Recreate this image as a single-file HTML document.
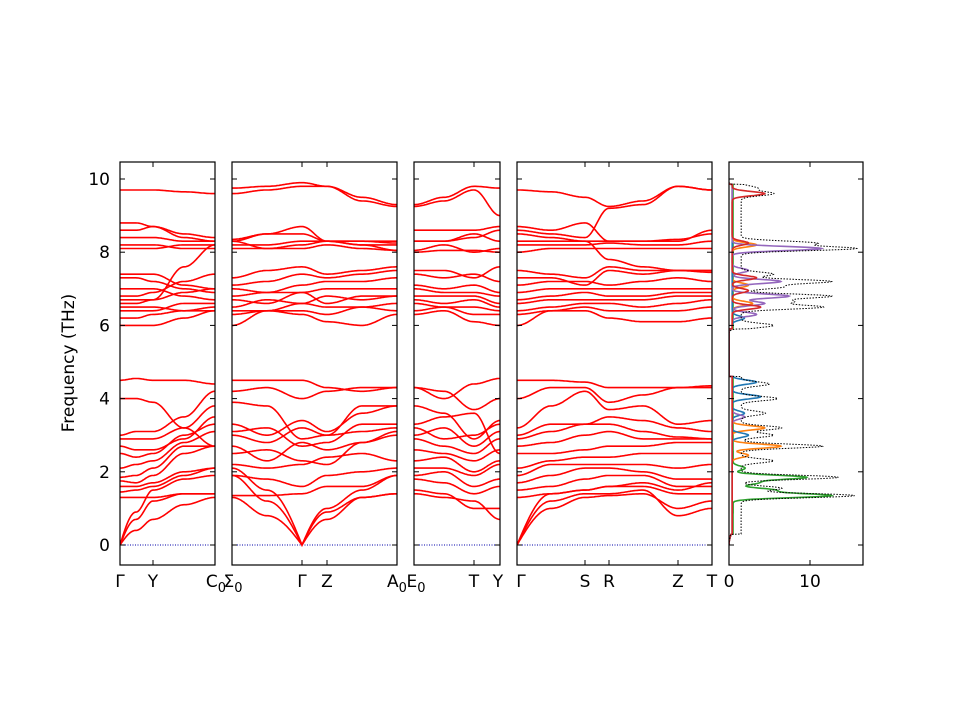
<!DOCTYPE html>
<html><head><meta charset="utf-8"><style>
body{margin:0;background:#fff}
svg{display:block;font-family:"DejaVu Sans","Liberation Sans",sans-serif}
</style></head><body>
<svg id="s" width="960" height="720" xmlns="http://www.w3.org/2000/svg"></svg>
<script>
const S=document.getElementById('s');
const NS='http://www.w3.org/2000/svg';
function el(t,a,txt){const e=document.createElementNS(NS,t);for(const k in a)e.setAttribute(k,a[k]);if(txt!==undefined)e.textContent=txt;S.appendChild(e);return e;}
const Y0=545,K=36.6,TOP=162,BOT=565;
const fy=v=>Y0-v*K;
function clip(id,x,w){const c=el('clipPath',{id:id});const r=document.createElementNS(NS,'rect');r.setAttribute('x',x);r.setAttribute('y',TOP);r.setAttribute('width',w);r.setAttribute('height',BOT-TOP);c.appendChild(r);}
function panel(x0,x1,ticks,bands){
  clip('c'+x0,x0,x1-x0);
  el('line',{x1:x0,x2:x1,y1:Y0,y2:Y0,stroke:'#0000aa','stroke-width':1,'stroke-dasharray':'1,1.5'});
  for(const b of bands){
    let d='';
    for(let i=0;i<ticks.length-1;i++){
      const a=ticks[i],c=ticks[i+1];
      for(let x=a;x<=c;x+=1){
        const t=(x-a)/(c-a);
        let s=(1-Math.cos(Math.PI*t))/2;
        if(b[i]===0) s=Math.sin(Math.PI*t/2);
        else if(b[i+1]===0) s=1-Math.cos(Math.PI*t/2);
        const v=b[i]+(b[i+1]-b[i])*s;
        d+=(d?'L':'M')+x.toFixed(1)+','+fy(v).toFixed(1);
      }
    }
    el('path',{d:d,fill:'none',stroke:'#ff0000','stroke-width':1.6,'clip-path':'url(#c'+x0+')'});
  }
}
function frame(x0,x1,xt){
  el('rect',{x:x0,y:TOP,width:x1-x0,height:BOT-TOP,fill:'none',stroke:'#000','stroke-width':1.2});
  for(let v=0;v<=10;v+=2){el('line',{x1:x0,x2:x0+5,y1:fy(v),y2:fy(v),stroke:'#000'});el('line',{x1:x1-5,x2:x1,y1:fy(v),y2:fy(v),stroke:'#000'});}
  for(const x of xt){el('line',{x1:x,x2:x,y1:BOT,y2:BOT-5,stroke:'#000'});el('line',{x1:x,x2:x,y1:TOP,y2:TOP+5,stroke:'#000'});}
}
panel(120,215,[120,136,153,184,215],[
[0,0.4,0.7,1.1,1.3],[0,0.7,1.2,1.4,1.4],[0,0.9,1.5,1.8,1.9],
[1.3,1.3,1.3,1.4,1.4],[1.45,1.5,1.6,1.9,2.1],[1.6,1.6,1.7,2.0,2.1],[1.75,1.7,1.9,2.5,2.7],[1.85,1.9,2.1,2.7,2.7],[2.1,2.2,2.3,2.8,3.1],[2.5,2.4,2.5,3.0,3.3],[2.7,2.6,2.6,2.9,3.5],[2.9,2.9,2.9,3.2,3.8],[3.0,3.1,3.1,3.5,4.2],[4.0,4.0,3.9,3.2,2.7],[4.5,4.55,4.5,4.5,4.4],
[6.0,6.0,6.0,6.2,6.4],[6.2,6.2,6.3,6.4,6.5],[6.4,6.4,6.4,6.6,6.6],[6.5,6.5,6.5,6.4,6.4],[6.6,6.6,6.7,7.6,8.2],[6.7,6.7,6.7,6.9,7.0],[6.8,6.8,6.9,7.2,7.4],[7.0,7.0,7.0,6.8,6.7],[7.3,7.3,7.2,7.0,6.9],[7.4,7.4,7.4,7.1,7.0],[8.1,8.1,8.1,8.2,8.2],[8.2,8.2,8.2,8.1,8.1],[8.4,8.4,8.4,8.3,8.3],[8.6,8.6,8.7,8.4,8.3],[8.8,8.8,8.7,8.5,8.4],[9.7,9.7,9.7,9.65,9.6]]);
frame(120,215,[153]);
panel(232,397,[232,267,302,327,362,397],[
[1.3,0.8,0,0.9,1.3,1.4],[1.9,1.2,0,0.7,1.3,1.4],[2.1,1.5,0,1.0,1.5,1.9],
[1.35,1.35,1.4,1.6,1.6,1.9],[1.9,1.8,1.6,1.9,2.0,2.1],[2.2,2.1,2.2,2.4,2.5,2.3],[2.5,2.6,2.3,2.2,2.8,3.0],[2.7,2.3,2.8,2.6,2.8,3.1],[3.0,2.8,3.2,3.0,3.1,3.2],[3.1,3.2,2.7,2.8,3.3,3.3],[3.3,3.0,3.4,3.1,3.6,3.8],[3.9,3.8,2.9,3.0,3.8,3.8],[4.2,4.3,4.0,4.2,4.3,4.3],[4.5,4.5,4.5,4.3,4.2,4.3],
[6.0,6.4,6.3,6.1,6.0,6.3],[6.3,6.4,6.4,6.3,6.5,6.4],[6.4,6.4,6.6,6.5,6.5,6.6],[6.5,6.7,6.6,6.8,6.7,6.8],[6.7,6.6,6.9,6.6,6.8,6.8],[6.8,6.9,6.9,7.0,7.0,7.0],[7.0,6.9,7.1,7.2,7.2,7.3],[7.1,7.2,7.4,7.3,7.4,7.5],[7.3,7.5,7.6,7.4,7.5,7.6],[8.1,8.1,8.1,8.2,8.1,8.05],[8.2,8.2,8.3,8.3,8.3,8.25],[8.3,8.1,8.2,8.3,8.2,8.05],[8.3,8.5,8.5,8.3,8.2,8.2],[8.35,8.5,8.7,8.3,8.3,8.3],[9.6,9.7,9.8,9.8,9.5,9.3],[9.75,9.8,9.9,9.8,9.4,9.25]]);
frame(232,397,[302,327]);
panel(414,500,[414,444,474,500],[
[1.4,1.3,1.2,0.7],[1.5,1.4,1.0,1.0],[1.8,1.7,1.4,1.6],[1.9,2.0,1.6,1.8],[2.1,2.1,1.9,2.2],[2.3,2.4,2.0,2.3],[2.6,2.5,2.3,2.6],[2.9,2.7,2.5,2.9],[3.0,3.2,2.7,3.1],[3.2,2.9,3.0,3.3],[3.3,3.5,3.6,2.5],[3.8,3.6,2.9,3.4],[4.3,4.2,3.7,4.0],[4.3,4.0,4.4,4.55],
[6.3,6.4,6.1,6.0],[6.4,6.5,6.3,6.3],[6.6,6.5,6.5,6.4],[6.7,6.6,6.7,6.5],[6.8,6.8,6.8,6.6],[7.0,6.9,6.9,6.8],[7.1,7.0,7.1,6.9],[7.4,7.3,7.4,7.2],[7.5,7.5,7.3,7.6],[8.0,8.05,8.05,8.0],[8.05,8.2,8.0,8.1],[8.3,8.3,8.4,8.6],[8.3,8.3,8.5,8.3],[8.6,8.6,8.6,8.7],[9.25,9.4,9.7,9.0],[9.3,9.5,9.8,9.75]]);
frame(414,500,[474]);
panel(517,712,[517,551,585,609,643,678,712],[
[0,1.0,1.3,1.35,1.4,1.0,1.2],[0,1.2,1.4,1.4,1.5,0.8,1.0],[0,1.4,1.5,1.6,1.7,1.5,1.7],
[1.3,1.4,1.5,1.6,1.6,1.4,1.4],[1.5,1.6,1.8,1.9,1.9,1.6,1.6],[1.7,1.9,2.1,2.1,2.0,1.8,1.8],[1.9,2.2,2.2,2.2,2.2,2.1,2.2],[2.1,2.3,2.4,2.4,2.5,2.5,2.5],[2.5,2.5,2.6,2.7,2.7,2.8,2.8],[2.7,2.8,3.0,3.1,2.9,2.9,2.9],[2.9,3.1,3.3,3.3,3.1,2.95,2.9],[3.0,3.3,3.3,3.5,3.4,3.2,3.1],[3.2,3.8,4.2,3.7,3.8,3.3,3.4],[4.0,4.3,4.3,3.9,4.1,4.3,4.3],[4.5,4.5,4.45,4.3,4.3,4.3,4.35],
[6.0,6.4,6.4,6.2,6.1,6.1,6.2],[6.3,6.4,6.5,6.4,6.4,6.4,6.5],[6.4,6.5,6.6,6.6,6.5,6.6,6.7],[6.6,6.7,6.7,6.7,6.7,6.8,6.8],[6.7,6.8,6.9,6.8,6.8,6.9,6.9],[6.9,7.0,7.0,7.0,7.0,7.0,7.0],[7.1,7.2,7.2,7.1,7.2,7.3,7.2],[7.3,7.3,7.1,7.5,7.4,7.5,7.45],[7.5,7.4,7.3,7.6,7.5,7.5,7.5],[8.0,8.1,8.1,8.1,8.1,8.1,8.1],[8.2,8.2,8.2,8.25,8.2,8.2,8.3],[8.3,8.3,8.3,8.3,8.3,8.35,8.5],[8.5,8.4,8.3,7.8,7.6,7.5,7.5],[8.6,8.5,8.4,9.2,9.3,9.8,9.7],[8.7,8.6,8.8,8.3,8.3,8.3,8.6],[9.7,9.65,9.5,9.25,9.4,9.8,9.7]]);
frame(517,712,[585,609,678]);
const DX0=729,DX1=863,DK=8.1;
clip('cd',DX0,DX1-DX0);
function dos(peaks,col,w,dash){
  let d='';
  for(let f=0;f<=9.9;f+=0.01){
    let v=0;
    for(const p of peaks)v+=p[1]*Math.exp(-Math.pow((f-p[0])/0.08,2));
    const inband=(f>0.3&&f<4.6)||(f>5.9&&f<9.85);
    if(inband)v+=peaks.base||0;
    if(f<=0.3) v=f*f*3;
    d+=(d?'L':'M')+(DX0+v*DK).toFixed(1)+','+fy(f).toFixed(1);
  }
  const a={d:d,fill:'none',stroke:col,'stroke-width':w,'clip-path':'url(#cd)'};
  if(dash)a['stroke-dasharray']=dash;
  el('path',a);
}
const G=[[1.35,12],[1.5,5],[1.85,9],[1.7,3],[2.1,1.5]];G.base=0.5;
const O=[[2.7,6],[3.2,4],[2.45,2],[8.2,3],[6.6,2.5],[7.1,2]];O.base=0.4;
const B=[[4.05,3.5],[4.45,3],[3.0,2],[3.6,1.5],[6.2,1.5]];B.base=0.4;
const P=[[6.8,7],[6.6,4],[7.2,6],[8.1,11],[3.5,1.5],[6.3,3],[7.5,2]];P.base=0.4;
const R=[[6.5,3.5],[9.6,4],[7.3,3],[8.25,2],[6.95,2]];R.base=0.4;
const T=[[1.35,14],[1.55,5],[1.85,12],[2.7,10],[2.3,4],[3.2,5],[3.0,4],[3.6,3],[4.0,4.5],[4.4,3.5],[6.0,4],[6.5,10],[6.8,11],[6.65,6],[7.2,11],[7.05,5],[7.4,4],[8.1,14],[8.25,9],[9.6,4],[9.75,2]];T.base=1.5;
dos(G,'#2ca02c',1.6);dos(O,'#ff7f0e',1.6);dos(B,'#1f77b4',1.6);dos(P,'#9467bd',1.6);dos(R,'#d62728',1.6);
dos(T,'#000',1,'1.5,1.5');
frame(DX0,DX1,[810]);
for(let v=0;v<=10;v+=2)el('text',{x:110,y:fy(v)+6,'font-size':17,'text-anchor':'end'},String(v));
el('text',{x:74,y:363,'font-size':17,'text-anchor':'middle',transform:'rotate(-90 74 363)'},'Frequency (THz)');
const xl=[[120,'Γ'],[153,'Y'],[302,'Γ'],[327,'Z'],[474,'T'],[498,'Y'],[521,'Γ'],[585,'S'],[609,'R'],[678,'Z'],[712,'T'],[729,'0'],[810,'10']];
for(const [x,t] of xl)el('text',{x:x,y:587,'font-size':17,'text-anchor':'middle'},t);
function sub(x,t){const e=el('text',{x:x,y:587,'font-size':17,'text-anchor':'middle'},t);const s=document.createElementNS(NS,'tspan');s.setAttribute('font-size',13);s.setAttribute('dy',5);s.textContent='0';e.appendChild(s);}
sub(216,'C');sub(233,'Σ');sub(397,'A');sub(416,'E');
</script>
</body></html>
